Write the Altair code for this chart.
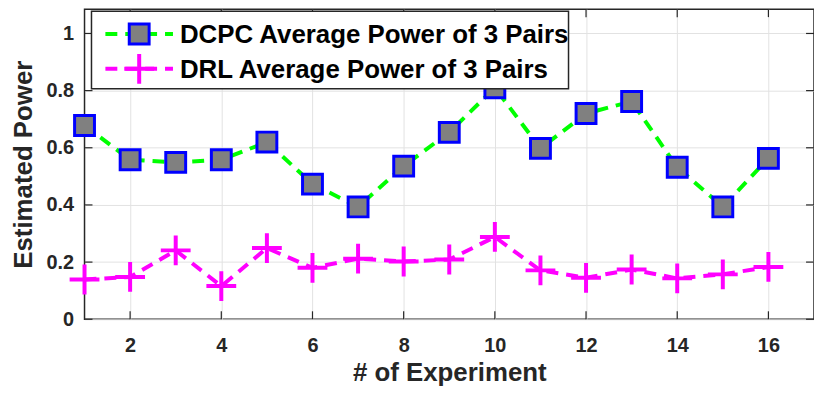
import altair as alt
import pandas as pd

experiments = list(range(1, 17))
dcpc = [0.678, 0.558, 0.549, 0.558, 0.620, 0.473, 0.393, 0.536, 0.654, 0.810,
        0.598, 0.720, 0.762, 0.532, 0.393, 0.563]
drl = [0.139, 0.148, 0.241, 0.116, 0.249, 0.180, 0.212, 0.202, 0.209, 0.288,
       0.171, 0.145, 0.174, 0.143, 0.157, 0.183]
x_ticks = [2, 4, 6, 8, 10, 12, 14, 16]
y_ticks = [0, 0.2, 0.4, 0.6, 0.8, 1]
legend_labels = ["DCPC Average Power of 3 Pairs", "DRL Average Power of 3 Pairs"]

W, H = 734, 312
FONT = "Liberation Sans"
DARK = "#262626"
GREEN = "#00ff00"
MAGENTA = "#ff00ff"
BLUE = "#0000ff"
GRAY = "#808080"
PLUS = "M-1,0H1M0,-1V1"

xs = alt.Scale(domain=[1, 17], nice=False, zero=False)
ys = alt.Scale(domain=[0, 1.085], nice=False, zero=False)

df = pd.DataFrame({"x": experiments, "dcpc": dcpc, "drl": drl})
dfx = pd.DataFrame({"v": x_ticks})
dfy = pd.DataFrame({"v": y_ticks})
one = pd.DataFrame({"a": [0]})

xaxis = alt.Axis(values=x_ticks, grid=True, gridColor="#e2e2e2", gridWidth=1,
                 tickSize=0, domain=False, labelFont=FONT, labelFontSize=20,
                 labelFontWeight="bold", labelColor=DARK, labelPadding=16,
                 title="# of Experiment", titleFont=FONT, titleFontSize=26,
                 titleFontWeight="bold", titleColor=DARK, titleY=62,
                 titleBaseline="alphabetic")
yaxis = alt.Axis(values=y_ticks, grid=True, gridColor="#e2e2e2", gridWidth=1,
                 tickSize=0, domain=False, labelFont=FONT, labelFontSize=20,
                 labelFontWeight="bold", labelColor=DARK, labelPadding=11,
                 labelExpr="datum.value == 0 ? '0' : datum.value == 1 ? '1' : format(datum.value, '.1f')",
                 title="Estimated Power", titleFont=FONT, titleFontSize=26,
                 titleFontWeight="bold", titleColor=DARK, titleX=-53,
                 titleBaseline="alphabetic")


def X(f):
    return alt.X(f, scale=xs, axis=xaxis)


def Y(f):
    return alt.Y(f, scale=ys, axis=yaxis)


base = alt.Chart(df)

green_line = base.mark_line(color=GREEN, strokeWidth=4, strokeDash=[12, 8]).encode(
    x=X("x:Q"), y=Y("dcpc:Q"))
mag_line = base.mark_line(color=MAGENTA, strokeWidth=4, strokeDash=[12, 8]).encode(
    x=X("x:Q"), y=Y("drl:Q"))
squares = base.mark_point(shape="square", filled=False, fill=GRAY, fillOpacity=1,
                          stroke=BLUE, strokeWidth=3, size=400, opacity=1).encode(
    x=X("x:Q"), y=Y("dcpc:Q"))
pluses = base.mark_point(shape=PLUS, filled=False, stroke=MAGENTA, strokeWidth=4,
                         size=900, opacity=1).encode(
    x=X("x:Q"), y=Y("drl:Q"))

tick_style = dict(color=DARK, strokeWidth=1.2)
tl = alt.Chart(dfy).mark_rule(**tick_style).encode(
    y=Y("v:Q"), x=alt.value(0), x2=alt.value(8))
tr = alt.Chart(dfy).mark_rule(**tick_style).encode(
    y=Y("v:Q"), x=alt.value(W - 8), x2=alt.value(W))
tb = alt.Chart(dfx).mark_rule(**tick_style).encode(
    x=X("v:Q"), y=alt.value(H - 8), y2=alt.value(H))
tt = alt.Chart(dfx).mark_rule(**tick_style).encode(
    x=X("v:Q"), y=alt.value(0), y2=alt.value(8))

# legend
lx0, lx1, ly0, ly1 = 7, 487, 2, 80
r1, r2 = 25, 60
leg_box = alt.Chart(one).mark_rect(fill="white", stroke=DARK, strokeWidth=1.5).encode(
    x=alt.value(lx0), x2=alt.value(lx1), y=alt.value(ly0), y2=alt.value(ly1))
leg_l1 = alt.Chart(one).mark_rule(color=GREEN, strokeWidth=4, strokeDash=[12, 8]).encode(
    x=alt.value(21), x2=alt.value(89), y=alt.value(r1))
leg_l2 = alt.Chart(one).mark_rule(color=MAGENTA, strokeWidth=4, strokeDash=[12, 8]).encode(
    x=alt.value(21), x2=alt.value(89), y=alt.value(r2))
leg_m1 = alt.Chart(one).mark_point(shape="square", filled=False, fill=GRAY, fillOpacity=1,
                                   stroke=BLUE, strokeWidth=3, size=400, opacity=1).encode(
    x=alt.value(55), y=alt.value(r1))
leg_m2 = alt.Chart(one).mark_point(shape=PLUS, filled=False, stroke=MAGENTA, strokeWidth=4,
                                   size=900, opacity=1).encode(
    x=alt.value(55), y=alt.value(r2))
leg_t1 = alt.Chart(one).mark_text(text=legend_labels[0], align="left", baseline="middle",
                                  font=FONT, fontSize=26, fontWeight="bold", color="black").encode(
    x=alt.value(96), y=alt.value(r1 + 1))
leg_t2 = alt.Chart(one).mark_text(text=legend_labels[1], align="left", baseline="middle",
                                  font=FONT, fontSize=26, fontWeight="bold", color="black").encode(
    x=alt.value(96), y=alt.value(r2 + 1))

chart = alt.layer(
    green_line, mag_line, squares, pluses, tl, tr, tb, tt,
    leg_box, leg_l1, leg_l2, leg_m1, leg_m2, leg_t1, leg_t2,
).properties(
    width=W, height=H,
    padding={"left": 77, "top": 0, "right": 0, "bottom": 70},
    autosize=alt.AutoSizeParams(type="none"),
).configure_view(stroke=DARK, strokeWidth=1.5)

chart.save("out.html", embed_options={"renderer": "svg", "actions": False})
